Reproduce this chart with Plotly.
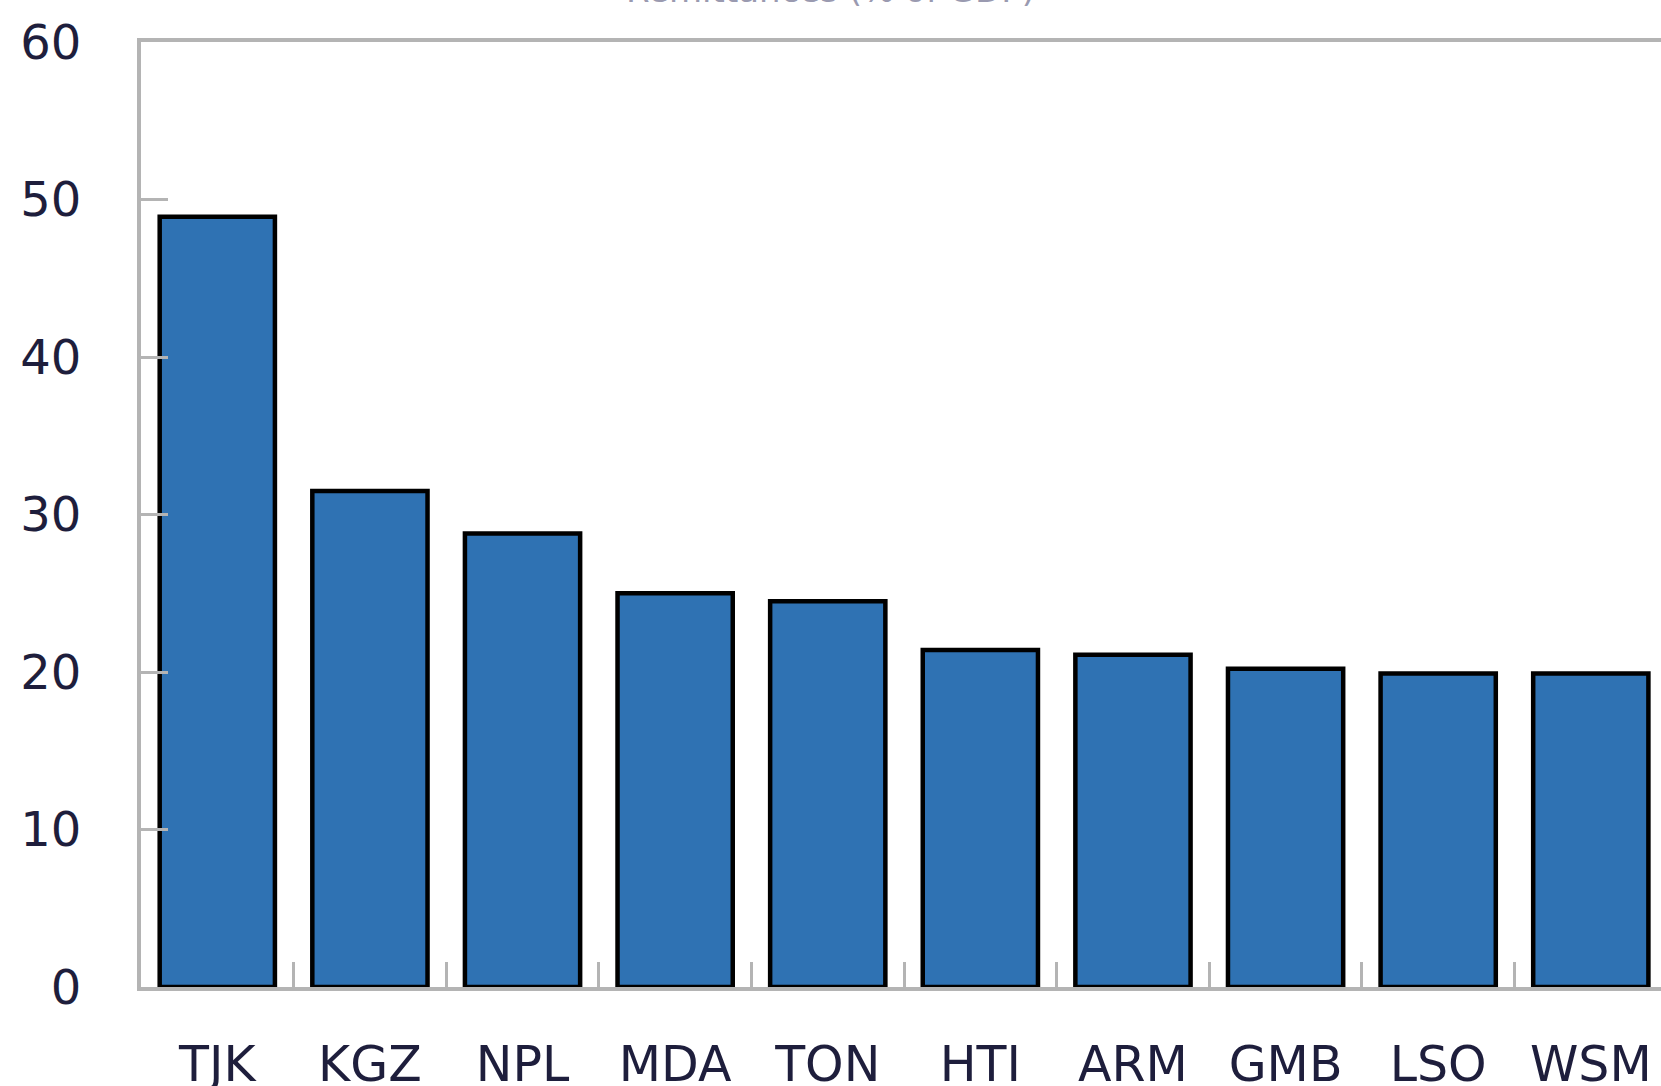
import plotly.graph_objects as go

countries = ["TJK", "KGZ", "NPL", "MDA", "TON", "HTI", "ARM", "GMB", "LSO", "WSM"]
values = [48.9, 31.5, 28.8, 25.0, 24.5, 21.4, 21.1, 20.2, 19.9, 19.9]
y_ticks = [0, 10, 20, 30, 40, 50, 60]
title_text = "Remittances (% of GDP)"

AX = "#b4b4b4"
TXT = "#1e1e3c"
FONT = "DejaVu Sans"

fig = go.Figure(
    go.Bar(
        x=countries,
        y=values,
        marker=dict(color="#2f72b3", line=dict(color="#000000", width=4.5)),
    )
)

fig.update_layout(
    width=1661,
    height=1086,
    margin=dict(l=141, r=0, t=42, b=99, autoexpand=False),
    paper_bgcolor="white",
    plot_bgcolor="white",
    bargap=0.245,
    showlegend=False,
    font=dict(family=FONT, color=TXT, size=48),
    title=dict(
        text=title_text,
        x=0.5,
        xanchor="center",
        y=0.998,
        yanchor="bottom",
        yref="container",
        font=dict(size=34, color="#9a9ab0", family=FONT),
    ),
)

fig.update_xaxes(
    type="category",
    range=[-0.5, 9.46],
    automargin=False,
    showline=True,
    linecolor=AX,
    linewidth=4,
    mirror=True,
    ticks="inside",
    tickson="boundaries",
    ticklen=25,
    tickwidth=3,
    tickcolor=AX,
    showgrid=False,
    zeroline=False,
    ticklabelstandoff=31,
    tickfont=dict(size=49, color=TXT, family=FONT),
)

fig.update_yaxes(
    range=[0, 60],
    tickvals=y_ticks,
    automargin=False,
    showline=True,
    linecolor=AX,
    linewidth=4,
    mirror=False,
    ticks="inside",
    ticklen=27,
    tickwidth=3,
    tickcolor=AX,
    showgrid=False,
    zeroline=False,
    ticklabelstandoff=46,
    tickfont=dict(size=48, color=TXT, family=FONT),
)

fig.write_html(
    "out.html",
    config={"displayModeBar": False},
    post_script="document.body.style.margin='0';document.body.style.overflow='hidden';",
)
